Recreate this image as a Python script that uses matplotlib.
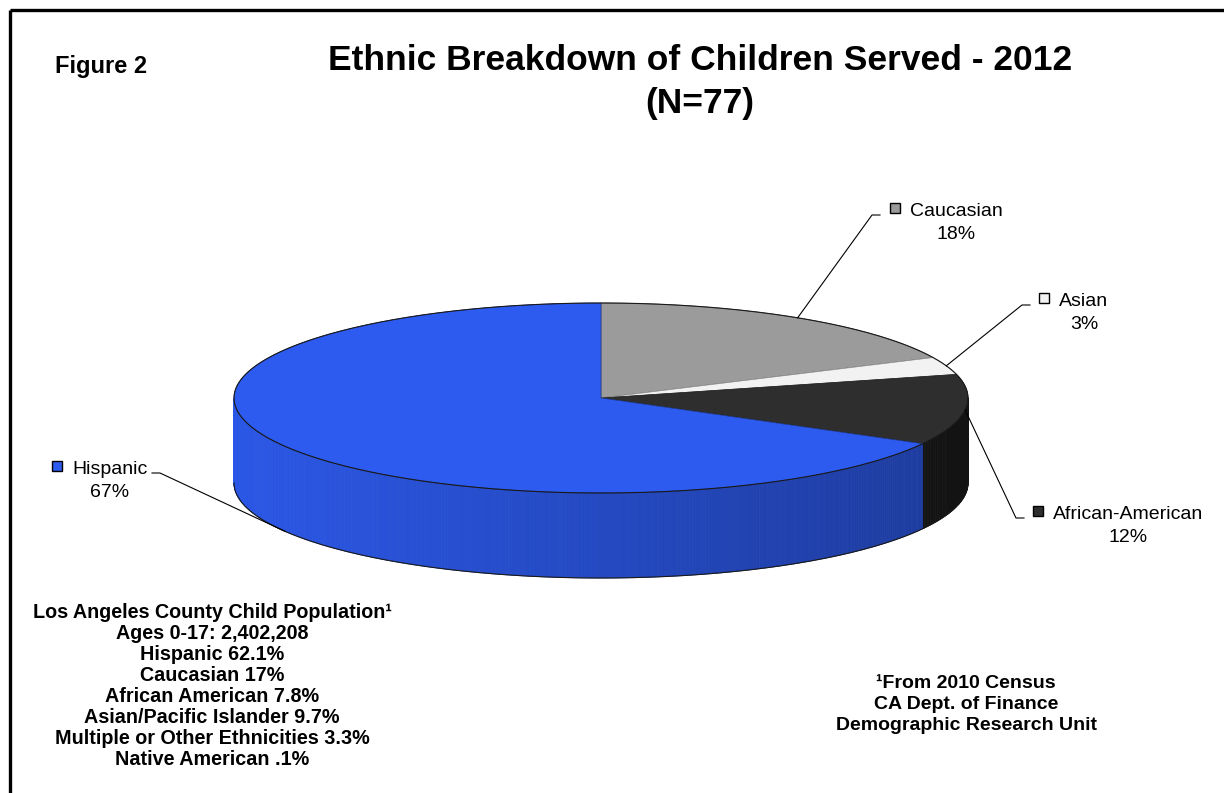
import numpy as np
import matplotlib
matplotlib.use('Agg')
import matplotlib.pyplot as plt
from matplotlib.patches import Polygon
from matplotlib.colors import to_rgb

# chart data
labels = ['Caucasian', 'Asian', 'African-American', 'Hispanic']
shares = [18, 3, 12, 67]
top_colors = ['#9b9b9b', '#f2f2f2', '#2e2e2e', '#2d5bf0']
side_colors = ['#808080', '#d4d4d4', '#1c1c1c', '#2b57e6']

title_lines = ['Ethnic Breakdown of Children Served - 2012', '(N=77)']
figure_tag = 'Figure 2'
county_lines = [
    'Los Angeles County Child Population\u00b9',
    'Ages 0-17: 2,402,208',
    'Hispanic 62.1%',
    'Caucasian 17%',
    'African American 7.8%',
    'Asian/Pacific Islander 9.7%',
    'Multiple or Other Ethnicities 3.3%',
    'Native American .1%',
]
source_lines = ['\u00b9From 2010 Census', 'CA Dept. of Finance', 'Demographic Research Unit']

# layout (pixels, y down)
CX, CY, RX, RY, DEPTH = 601, 398, 367, 95, 85
label_layout = {
    'Caucasian': dict(elbow=(872, 215), end=(880, 215), text=(956, 216)),
    'Asian': dict(elbow=(1022, 305), end=(1030, 305), text=(1084, 306)),
    'African-American': dict(elbow=(1016, 518), end=(1024, 518), text=(1128, 519)),
    'Hispanic': dict(elbow=(160, 473), end=(152, 473), text=(110, 474)),
}
FONT = 'Liberation Sans'


def rim(phi, dy=0.0):
    phi = np.radians(phi)
    return CX + RX * np.cos(phi), CY - RY * np.sin(phi) + dy


def shade(color, factor):
    r, g, b = to_rgb(color)
    return (r * factor, g * factor, b * factor)


def front_parts(lo, hi):
    # visible (front) part of the wall lies where sin(phi) < 0
    for k in (-1, 0, 1):
        a, b = max(lo, -180 + 360 * k), min(hi, 360 * k)
        if a < b:
            yield a, b


def main():
    fig = plt.figure(figsize=(12.24, 7.93), dpi=100)
    ax = fig.add_axes([0, 0, 1, 1])
    ax.set_xlim(0, 1224)
    ax.set_ylim(793, 0)
    ax.axis('off')

    # frame (top and left only are visible in the page)
    ax.plot([10, 1224], [10, 10], color='black', lw=2.4, solid_capstyle='butt')
    ax.plot([10, 10], [10, 793], color='black', lw=2.4, solid_capstyle='butt')

    total = float(sum(shares))
    bounds = 90 - 360 * np.concatenate([[0], np.cumsum(shares)]) / total

    # side walls
    for i in range(len(shares)):
        hi, lo = bounds[i], bounds[i + 1]
        for a, b in front_parts(lo, hi):
            steps = np.linspace(a, b, max(2, int((b - a) * 2)))
            for p0, p1 in zip(steps[:-1], steps[1:]):
                pm = np.radians((p0 + p1) / 2)
                f = 1.0 - 0.32 * (1 + np.cos(pm)) / 2
                col = shade(side_colors[i], f)
                x0, y0 = rim(p0)
                x1, y1 = rim(p1)
                ax.add_patch(Polygon([(x0, y0), (x1, y1), (x1, y1 + DEPTH), (x0, y0 + DEPTH)],
                                     closed=True, facecolor=col, edgecolor=col, lw=0.6))

    # bottom front rim outline
    t = np.linspace(-180, 0, 200)
    bx, by = rim(t, DEPTH)
    ax.plot(bx, by, color='#1a1a1a', lw=0.8)

    # top faces
    for i in range(len(shares)):
        hi, lo = bounds[i], bounds[i + 1]
        t = np.linspace(hi, lo, max(3, int((hi - lo) * 2)))
        xs, ys = rim(t)
        pts = [(CX, CY)] + list(zip(xs, ys))
        ax.add_patch(Polygon(pts, closed=True, facecolor=top_colors[i],
                             edgecolor=shade(top_colors[i], 0.6), lw=0.5))

    t = np.linspace(0, 360, 400)
    tx, ty = rim(t)
    ax.plot(tx, ty, color='#1a1a1a', lw=0.8)

    # data labels with leader lines
    renderer = fig.canvas.get_renderer()
    inv = ax.transData.inverted()
    for i, name in enumerate(labels):
        lay = label_layout[name]
        mid = (bounds[i] + bounds[i + 1]) / 2
        dy = DEPTH if np.sin(np.radians(mid)) < -0.3 else 0
        ax_, ay_ = rim(mid, dy)
        (ex, ey), (fx, fy) = lay['elbow'], lay['end']
        ax.plot([ax_, ex, fx], [ay_, ey, fy], color='black', lw=0.8)

        x, y = lay['text']
        t1 = ax.text(x, y, name, ha='center', va='baseline', fontsize=14, family=FONT)
        ax.text(x, y + 23, '%d%%' % shares[i], ha='center', va='baseline', fontsize=14, family=FONT)
        bb = t1.get_window_extent(renderer)
        left = inv.transform((bb.x0, bb.y0))[0]
        ax.plot([left - 15], [y - 8], marker='s', ms=7, mfc=top_colors[i], mec='black', mew=1.0)

    # titles
    ax.text(700, 70, title_lines[0], ha='center', va='baseline', fontsize=25.5,
            fontweight='bold', family=FONT)
    ax.text(700, 113, title_lines[1], ha='center', va='baseline', fontsize=25.5,
            fontweight='bold', family=FONT)
    ax.text(55, 73, figure_tag, ha='left', va='baseline', fontsize=17,
            fontweight='bold', family=FONT)

    for k, line in enumerate(county_lines):
        ax.text(212, 618 + k * 21, line, ha='center', va='baseline', fontsize=14.2,
                fontweight='bold', family=FONT)
    for k, line in enumerate(source_lines):
        ax.text(966, 688 + k * 21, line, ha='center', va='baseline', fontsize=14,
                fontweight='bold', family=FONT)

    fig.savefig('out.png', dpi=100)


if __name__ == '__main__':
    main()
